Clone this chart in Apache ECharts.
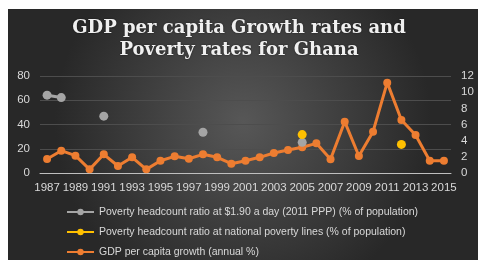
<!DOCTYPE html>
<html>
<head>
<meta charset="utf-8">
<script src="https://cdn.jsdelivr.net/npm/echarts@6/dist/echarts.min.js"></script>
<style>
  html, body { margin: 0; padding: 0; background: #fff; }
  #main { width: 478px; height: 260px; }
</style>
</head>
<body>
<div id="main"></div>
<script>
// 年份
var years = ['1987', '1988', '1989', '1990', '1991', '1992', '1993', '1994', '1995', '1996',
  '1997', '1998', '1999', '2000', '2001', '2002', '2003', '2004', '2005', '2006',
  '2007', '2008', '2009', '2010', '2011', '2012', '2013', '2014', '2015']
// 贫困率 $1.90 (左轴)
var povertyPPP = [64.2, 62.2, null, null, 46.9, null, null, null, null, null,
  null, 33.6, null, null, null, null, null, null, 25.3, null,
  null, null, null, null, null, null, null, null, null]
// 国家贫困线 (左轴)
var povertyNational = [null, null, null, null, null, null, null, null, null, null,
  null, null, null, null, null, null, null, null, 31.7, null,
  null, null, null, null, null, 23.6, null, null, null]
// 人均GDP增长 (右轴)
var gdpGrowth = [1.73, 2.76, 2.14, 0.45, 2.31, 0.87, 1.94, 0.45, 1.52, 2.06,
  1.77, 2.31, 1.94, 1.15, 1.52, 1.94, 2.48, 2.85, 3.18, 3.67,
  1.69, 6.35, 2.1, 5.11, 11.18, 6.56, 4.7, 1.52, 1.52]
var leftTicks = { min: 0, max: 80, interval: 20 }
var rightTicks = { min: 0, max: 12, interval: 2 }

var names = [
  'Poverty headcount ratio at $1.90 a day (2011 PPP) (% of population)',
  'Poverty headcount ratio at national poverty lines (% of population)',
  'GDP per capita growth (annual %)'
]

var chart = echarts.init(document.getElementById('main'), null, { renderer: 'canvas' })
var labelColor = '#d9d9d9'
chart.setOption({
  animation: false,
  backgroundColor: '#ffffff',
  color: ['#a5a5a5', '#ffc000', '#ed7d31'],
  // 深色背景
  graphic: [{
    type: 'rect',
    z: -10,
    shape: { x: 8, y: 9, width: 470, height: 251 },
    style: {
      fill: new echarts.graphic.RadialGradient(0.5, 0.45, 0.75, [
        { offset: 0, color: '#575757' },
        { offset: 1, color: '#282828' }
      ])
    }
  }],
  title: {
    text: 'GDP per capita Growth rates and\nPoverty rates for Ghana',
    left: 'center',
    top: 17,
    padding: 0,
    textStyle: {
      color: '#f0f0f0',
      fontFamily: 'DejaVu Serif',
      fontWeight: 'bold',
      fontSize: 18,
      lineHeight: 22,
      textShadowColor: 'rgba(0,0,0,0.6)',
      textShadowBlur: 2
    }
  },
  legend: {
    data: names,
    orient: 'vertical',
    left: 66,
    top: 206,
    padding: 0,
    itemGap: 8,
    itemWidth: 27,
    itemHeight: 8,
    textStyle: { color: labelColor, fontFamily: 'Liberation Sans', fontSize: 10.5, lineHeight: 12 }
  },
  grid: { left: 40, right: 27, top: 76, bottom: 87 },
  xAxis: {
    type: 'category',
    data: years,
    axisLine: { lineStyle: { color: '#bfbfbf', width: 1 } },
    axisTick: { show: false },
    axisLabel: { interval: 1, color: labelColor, fontFamily: 'Liberation Sans', fontSize: 11.5, margin: 9 }
  },
  yAxis: [
    {
      type: 'value',
      min: leftTicks.min,
      max: leftTicks.max,
      interval: leftTicks.interval,
      axisLine: { show: false },
      axisTick: { show: false },
      splitLine: { lineStyle: { color: '#4d4d4d', width: 1 } },
      axisLabel: { color: labelColor, fontFamily: 'Liberation Sans', fontSize: 11.5, margin: 10 }
    },
    {
      type: 'value',
      min: rightTicks.min,
      max: rightTicks.max,
      interval: rightTicks.interval,
      axisLine: { show: false },
      axisTick: { show: false },
      splitLine: { show: false },
      axisLabel: { color: labelColor, fontFamily: 'Liberation Sans', fontSize: 11.5, margin: 10 }
    }
  ],
  series: [
    {
      name: names[0],
      type: 'line',
      yAxisIndex: 0,
      data: povertyPPP,
      symbol: 'circle',
      symbolSize: 9,
      lineStyle: { width: 3 },
      connectNulls: false
    },
    {
      name: names[1],
      type: 'line',
      yAxisIndex: 0,
      data: povertyNational,
      symbol: 'circle',
      symbolSize: 9,
      lineStyle: { width: 3 },
      connectNulls: false
    },
    {
      name: names[2],
      type: 'line',
      yAxisIndex: 1,
      data: gdpGrowth,
      symbol: 'circle',
      symbolSize: 8,
      lineStyle: { width: 3 },
      z: 1
    }
  ]
})
</script>
</body>
</html>
